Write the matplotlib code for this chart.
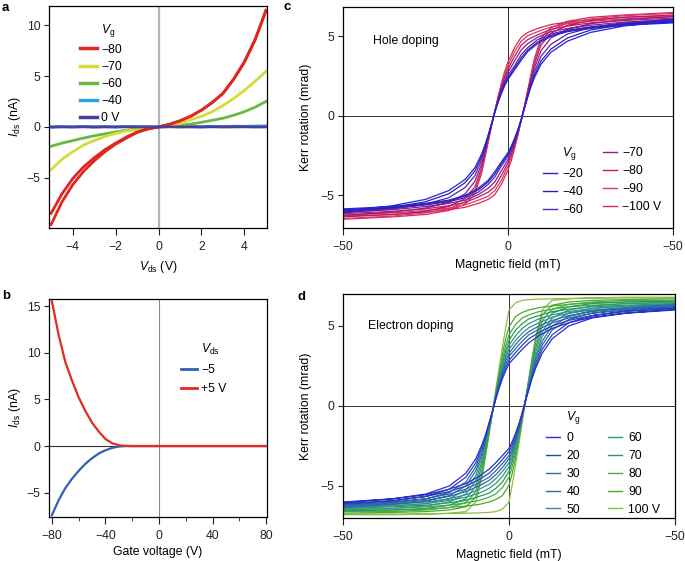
import matplotlib
matplotlib.use("Agg")
import matplotlib.pyplot as plt
from matplotlib.lines import Line2D
import numpy as np

plt.rcParams['font.family'] = ['Liberation Sans', 'DejaVu Sans']
plt.rcParams['font.size'] = 8.8
plt.rcParams['mathtext.fontset'] = 'custom'
plt.rcParams['mathtext.rm'] = 'Liberation Sans'
plt.rcParams['mathtext.it'] = 'Liberation Sans:italic'
plt.rcParams['axes.linewidth'] = 0.9
plt.rcParams['xtick.major.size'] = 5
plt.rcParams['ytick.major.size'] = 3.5
plt.rcParams['xtick.minor.size'] = 3
plt.rcParams['xtick.major.pad'] = 4.5
plt.rcParams['ytick.major.pad'] = 2.5
plt.rcParams['xtick.major.width'] = 0.8
plt.rcParams['ytick.major.width'] = 0.8
plt.rcParams['xtick.color'] = '#222222'
plt.rcParams['ytick.color'] = '#222222'

# ---- panel a: I-V curves at different gate voltages
vds = [-5, -4.5, -4, -3.5, -3, -2.5, -2, -1.5, -1, -0.5, 0,
       0.5, 1, 1.5, 2, 2.5, 3, 3.5, 4, 4.5, 5]
ids_m80_fwd = [-8.5, -6.6, -5.1, -3.95, -3.05, -2.25, -1.6, -1.0, -0.5, -0.2, 0,
               0.25, 0.6, 1.05, 1.65, 2.4, 3.3, 4.7, 6.4, 8.6, 11.5]
ids_m80_bwd = [-9.6, -7.4, -5.7, -4.4, -3.35, -2.45, -1.7, -1.1, -0.55, -0.2, 0,
               0.25, 0.6, 1.05, 1.65, 2.4, 3.3, 4.7, 6.4, 8.6, 11.4]
ids_m70 = [-4.2, -3.2, -2.45, -1.8, -1.35, -0.95, -0.65, -0.4, -0.25, -0.1, 0,
           0.15, 0.35, 0.7, 1.05, 1.5, 2.1, 2.8, 3.6, 4.5, 5.45]
ids_m60 = [-1.9, -1.6, -1.35, -1.1, -0.88, -0.68, -0.5, -0.33, -0.2, -0.08, 0,
           0.05, 0.15, 0.28, 0.45, 0.65, 0.85, 1.15, 1.5, 1.95, 2.5]
ids_m40 = [0.02, 0.04, 0.02, 0.05, 0.03, 0.04, 0.02, 0.05, 0.03, 0.02, 0.03,
           0.04, 0.02, 0.05, 0.04, 0.06, 0.05, 0.07, 0.06, 0.08, 0.1]
ids_0v = [-0.03, 0.0, -0.02, 0.01, -0.03, 0.0, -0.02, 0.01, -0.01, 0.0, -0.02,
          0.01, -0.01, 0.0, -0.02, 0.01, -0.01, 0.0, 0.01, -0.01, 0.0]

# ---- panel b: transfer curves
vgate = [-80, -75, -70, -65, -60, -55, -50, -45, -40, -35, -30, -25,
         -20, 0, 20, 40, 60, 80]
ids_vds_m5 = [-7.4, -5.8, -4.5, -3.5, -2.65, -1.9, -1.3, -0.8, -0.45, -0.2, -0.05, 0,
              0, 0, 0, 0, 0, 0]
ids_vds_p5 = [15.5, 11.9, 9.0, 7.0, 5.2, 3.75, 2.5, 1.55, 0.75, 0.3, 0.08, 0.02,
              0, 0, 0, 0, 0, 0]

# ---- panels c, d: Kerr loops, descending branch (from +50 mT to -50 mT)
field = [50, 35, 25, 18, 13, 9, 6, 4, 2, 0, -1, -2, -3, -4, -5, -6, -7, -8,
         -10, -13, -18, -25, -35, -50]

kerr_hole_m20 = [5.85, 5.7, 5.5, 5.3, 5.0, 4.55, 4.05, 3.5, 2.9, 2.3, 1.9, 1.4, 0.85, 0.2,
                 -0.5, -1.2, -1.85, -2.4, -3.25, -4.0, -4.7, -5.25, -5.65, -6.0]
kerr_hole_m40 = [5.9, 5.75, 5.55, 5.35, 5.05, 4.65, 4.15, 3.65, 3.0, 2.4, 2.0, 1.5, 0.9, 0.25,
                 -0.5, -1.25, -1.95, -2.55, -3.45, -4.2, -4.9, -5.4, -5.75, -6.05]
kerr_hole_m60 = [5.95, 5.8, 5.6, 5.4, 5.15, 4.8, 4.3, 3.85, 3.15, 2.55, 2.1, 1.6, 0.95, 0.25,
                 -0.5, -1.3, -2.05, -2.75, -3.75, -4.5, -5.15, -5.55, -5.85, -6.1]
kerr_hole_m70 = [6.05, 5.9, 5.7, 5.5, 5.3, 4.95, 4.55, 4.15, 3.45, 2.75, 2.25, 1.7, 1.0, 0.25,
                 -0.55, -1.4, -2.25, -3.0, -4.1, -4.9, -5.45, -5.8, -6.05, -6.25]
kerr_hole_m80 = [6.15, 6.0, 5.85, 5.65, 5.45, 5.1, 4.8, 4.45, 3.75, 2.95, 2.45, 1.8, 1.1, 0.3,
                 -0.6, -1.5, -2.4, -3.25, -4.45, -5.2, -5.7, -6.0, -6.2, -6.35]
kerr_hole_m90 = [6.25, 6.1, 5.95, 5.8, 5.6, 5.3, 5.05, 4.7, 4.05, 3.15, 2.6, 1.95, 1.15, 0.3,
                 -0.6, -1.55, -2.5, -3.45, -4.7, -5.4, -5.85, -6.1, -6.3, -6.45]
kerr_hole_m100 = [6.3, 6.2, 6.05, 5.9, 5.75, 5.5, 5.25, 4.95, 4.3, 3.4, 2.8, 2.05, 1.2, 0.3,
                  -0.65, -1.65, -2.65, -3.6, -4.9, -5.55, -5.95, -6.2, -6.35, -6.5]

kerr_el_0 = [6.0, 5.8, 5.55, 5.2, 4.85, 4.4, 3.95, 3.55, 3.1, 2.65, 2.2, 1.7, 1.1, 0.4,
             -0.35, -1.05, -1.75, -2.35, -3.3, -4.2, -5.0, -5.5, -5.8, -6.05]
kerr_el_20 = [6.1, 5.9, 5.65, 5.35, 5.0, 4.6, 4.2, 3.8, 3.35, 2.85, 2.4, 1.85, 1.2, 0.45,
              -0.35, -1.1, -1.85, -2.5, -3.55, -4.45, -5.2, -5.65, -5.95, -6.15]
kerr_el_30 = [6.2, 6.0, 5.8, 5.5, 5.2, 4.8, 4.45, 4.05, 3.6, 3.1, 2.6, 2.0, 1.3, 0.5,
              -0.35, -1.2, -2.0, -2.7, -3.8, -4.75, -5.4, -5.8, -6.05, -6.25]
kerr_el_40 = [6.25, 6.1, 5.9, 5.65, 5.35, 5.0, 4.65, 4.3, 3.85, 3.3, 2.8, 2.15, 1.4, 0.55,
              -0.35, -1.25, -2.1, -2.9, -4.05, -5.0, -5.6, -5.95, -6.15, -6.35]
kerr_el_50 = [6.3, 6.15, 6.0, 5.8, 5.55, 5.2, 4.9, 4.55, 4.1, 3.55, 3.0, 2.3, 1.5, 0.6,
              -0.35, -1.3, -2.25, -3.1, -4.35, -5.25, -5.8, -6.1, -6.25, -6.4]
kerr_el_60 = [6.35, 6.25, 6.1, 5.9, 5.7, 5.45, 5.15, 4.85, 4.4, 3.8, 3.2, 2.45, 1.6, 0.65,
              -0.4, -1.4, -2.4, -3.35, -4.65, -5.5, -6.0, -6.25, -6.4, -6.5]
kerr_el_70 = [6.4, 6.3, 6.2, 6.05, 5.9, 5.65, 5.45, 5.15, 4.75, 4.1, 3.45, 2.65, 1.75, 0.7,
              -0.4, -1.5, -2.6, -3.6, -5.0, -5.8, -6.2, -6.4, -6.5, -6.55]
kerr_el_80 = [6.45, 6.4, 6.3, 6.2, 6.05, 5.9, 5.7, 5.5, 5.1, 4.45, 3.75, 2.9, 1.9, 0.75,
              -0.4, -1.6, -2.8, -3.9, -5.35, -6.05, -6.35, -6.5, -6.6, -6.6]
kerr_el_90 = [6.55, 6.5, 6.45, 6.35, 6.25, 6.15, 6.0, 5.85, 5.6, 4.95, 4.2, 3.2, 2.05, 0.8,
              -0.45, -1.75, -3.0, -4.2, -5.7, -6.3, -6.5, -6.6, -6.65, -6.7]
kerr_el_100 = [6.75, 6.75, 6.75, 6.72, 6.7, 6.68, 6.65, 6.6, 6.45, 6.0, 4.9, 3.65, 2.35, 1.0,
               -0.35, -1.7, -3.0, -4.3, -6.0, -6.6, -6.7, -6.75, -6.8, -6.8]

hole_labels = ['\u221220', '\u221240', '\u221260', '\u221270', '\u221280', '\u221290', '\u2212100 V']
hole_colors = ['#2424dc', '#2a1fb2', '#5a22b0', '#8c1f88', '#b81c62', '#d03c72', '#e2284e']
el_labels = ['0', '20', '30', '40', '50', '60', '70', '80', '90', '100 V']
el_colors = ['#2b2bd8', '#2447a8', '#2f66b4', '#2a6e9e', '#3a8c9c',
             '#2e9a7a', '#2a9a5a', '#4aac4a', '#4caa2a', '#8cc04a']

fig = plt.figure(figsize=(6.85, 5.61), dpi=100)
W, H = 685.0, 561.0


def add_ax(l, r, t, b):
    return fig.add_axes([l / W, (H - b) / H, (r - l) / W, (b - t) / H])


def blank():
    return Line2D([], [], color='none')


# ---------------- panel a
ax = add_ax(49, 267, 6, 228)
ax.axvline(0, color='#b4b4b4', lw=1.6, zorder=1)
ax.plot(vds, ids_0v, color='#4b3f9e', lw=2.0, zorder=3)
ax.plot(vds, ids_m40, color='#2fa0e0', lw=2.0, zorder=2)
ax.plot(vds, ids_m60, color='#6ab845', lw=2.0, zorder=2)
ax.plot(vds, ids_m70, color='#d4dc3c', lw=2.0, zorder=2)
ax.plot(vds, ids_m80_fwd, color='#e0261e', lw=2.0, zorder=2)
ax.plot(vds, ids_m80_bwd, color='#e0261e', lw=2.0, zorder=2)
ax.set_xlim(-5.1, 5.05)
ax.set_ylim(-9.95, 11.9)
ax.set_xticks([-4, -2, 0, 2, 4])
ax.set_yticks([-5, 0, 5, 10])
ax.set_xlabel(r'$V_{\rm ds}$ (V)', labelpad=4)
ax.set_ylabel(r'$I_{\rm ds}$ (nA)', labelpad=3)
hs = [blank()] + [Line2D([], [], color=c, lw=2.5) for c in
                  ['#e0261e', '#d4dc3c', '#6ab845', '#2fa0e0', '#4b3f9e']]
ls = [r'$V_{\rm g}$', '\u221280', '\u221270', '\u221260', '\u221240', '0 V']
ax.legend(hs, ls, loc='upper left', bbox_to_anchor=(0.14, 0.93), frameon=False,
          borderpad=0, borderaxespad=0, handlelength=1.4, handletextpad=0.35,
          labelspacing=0.42, fontsize=8.8)
fig.text(2 / W, 1 - 2 / H, 'a', weight='bold', fontsize=9.5, va='top')

# ---------------- panel b
ax = add_ax(49, 267, 299, 517)
ax.axvline(0, color='#888888', lw=0.8, zorder=1)
ax.axhline(0, color='#333333', lw=0.8, zorder=1)
ax.plot(vgate, ids_vds_m5, color='#3460b0', lw=1.6, zorder=2)
ax.plot(vgate, ids_vds_p5, color='#e02a22', lw=1.6, zorder=3)
ax.set_xlim(-82.2, 80.7)
ax.set_ylim(-7.6, 15.75)
ax.set_xticks([-80, -40, 0, 40, 80])
ax.set_xticks([-60, -20, 20, 60], minor=True)
ax.set_yticks([-5, 0, 5, 10, 15])
ax.set_xlabel('Gate voltage (V)', labelpad=3)
ax.set_ylabel(r'$I_{\rm ds}$ (nA)', labelpad=3)
hs = [blank(), Line2D([], [], color='#3460b0', lw=2), Line2D([], [], color='#e02a22', lw=2)]
ls = [r'$V_{\rm ds}$', '\u22125', '+5 V']
ax.legend(hs, ls, loc='upper left', bbox_to_anchor=(0.605, 0.805), frameon=False,
          borderpad=0, borderaxespad=0, handlelength=1.3, handletextpad=0.35,
          labelspacing=0.6, fontsize=8.8)
fig.text(2 / W, 1 - 290 / H, 'b', weight='bold', fontsize=9.5, va='top')


def loop(ax, desc, color):
    h = np.array(field, dtype=float)
    m = np.array(desc, dtype=float)
    x = np.concatenate([h, -h])
    y = np.concatenate([m, -m])
    ax.plot(x, y, color=color, lw=0.9, zorder=2)


def kerr_axes(ax):
    ax.axvline(0, color='#333333', lw=0.7, zorder=1)
    ax.axhline(0, color='#333333', lw=0.7, zorder=1)
    ax.set_xlim(-50, 50)
    ax.set_xticks([-50, 0, 50])
    ax.set_xticklabels(['\u221250', '0', '\u221250'])
    ax.set_yticks([-5, 0, 5])
    ax.set_xlabel('Magnetic field (mT)', labelpad=4)
    ax.set_ylabel('Kerr rotation (mrad)', labelpad=6)


# ---------------- panel c
ax = add_ax(343, 673, 7, 228)
hole = [kerr_hole_m20, kerr_hole_m40, kerr_hole_m60, kerr_hole_m70,
        kerr_hole_m80, kerr_hole_m90, kerr_hole_m100]
for desc, c in list(zip(hole, hole_colors))[::-1]:
    loop(ax, desc, c)
kerr_axes(ax)
ax.set_ylim(-7.05, 6.85)
ax.text(0.09, 0.845, 'Hole doping', transform=ax.transAxes, fontsize=8.8, va='center')
hs = [blank()] + [Line2D([], [], color=c, lw=1.0) for c in hole_colors]
ls = [r'$V_{\rm g}$'] + hole_labels
ax.legend(hs, ls, loc='upper left', bbox_to_anchor=(0.605, 0.375), frameon=False, ncol=2,
          borderpad=0, borderaxespad=0, handlelength=1.2, handletextpad=0.4,
          labelspacing=0.5, columnspacing=1.6, fontsize=8.8)
fig.text(283 / W, 1 - 1 / H, 'c', weight='bold', fontsize=9.5, va='top')

# ---------------- panel d
ax = add_ax(343, 675, 294, 518)
elec = [kerr_el_0, kerr_el_20, kerr_el_30, kerr_el_40, kerr_el_50,
        kerr_el_60, kerr_el_70, kerr_el_80, kerr_el_90, kerr_el_100]
for desc, c in list(zip(elec, el_colors))[::-1]:
    loop(ax, desc, c)
kerr_axes(ax)
ax.set_ylim(-7.0, 7.0)
ax.text(0.075, 0.855, 'Electron doping', transform=ax.transAxes, fontsize=8.8, va='center')
hs = [blank()] + [Line2D([], [], color=c, lw=1.0) for c in el_colors[:5]] + \
     [blank()] + [Line2D([], [], color=c, lw=1.0) for c in el_colors[5:]]
ls = [r'$V_{\rm g}$'] + el_labels[:5] + [r'$V_{\rm g}$'] + el_labels[5:]
leg = ax.legend(hs, ls, loc='upper left', bbox_to_anchor=(0.61, 0.485), frameon=False, ncol=2,
                borderpad=0, borderaxespad=0, handlelength=1.2, handletextpad=0.5,
                labelspacing=0.48, columnspacing=2.2, fontsize=8.8)
leg.get_texts()[6].set_alpha(0)
fig.text(297 / W, 1 - 291 / H, 'd', weight='bold', fontsize=9.5, va='top')

fig.savefig('out.png', dpi=100)
